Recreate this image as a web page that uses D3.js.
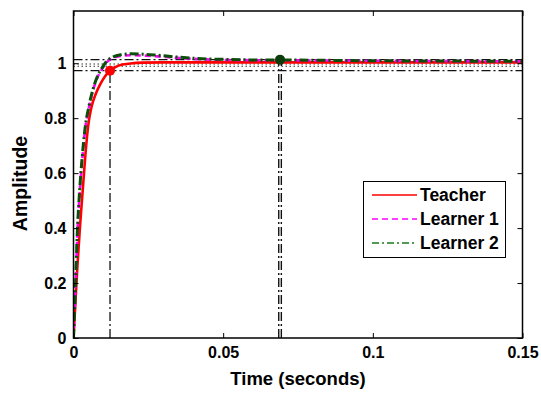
<!DOCTYPE html>
<html><head><meta charset="utf-8">
<script src="https://cdn.jsdelivr.net/npm/d3@7"></script>
<style>html,body{margin:0;padding:0;background:#fff;}svg{display:block;}</style>
</head><body>
<script>
// ---- data ----
const teacherT   = [0, 0.0005, 0.0013, 0.0022, 0.0031, 0.004, 0.005, 0.006, 0.0075, 0.009, 0.0105, 0.0122, 0.014, 0.016, 0.019, 0.023, 0.03, 0.04, 0.06, 0.08, 0.1, 0.12, 0.15];
const teacherAmp = [0, 0.10, 0.26, 0.41, 0.54, 0.67, 0.78, 0.84, 0.89, 0.925, 0.952, 0.973, 0.986, 0.994, 0.999, 1.002, 1.003, 1.003, 1.003, 1.003, 1.003, 1.003, 1.003];
const learner1T   = [0, 0.0005, 0.0013, 0.0022, 0.003, 0.004, 0.005, 0.0065, 0.008, 0.0095, 0.011, 0.0133, 0.016, 0.019, 0.023, 0.028, 0.034, 0.04, 0.05, 0.06, 0.069, 0.08, 0.1, 0.12, 0.15];
const learner1Amp = [0, 0.14, 0.38, 0.55, 0.66, 0.77, 0.83, 0.90, 0.948, 0.978, 1.002, 1.019, 1.027, 1.029, 1.028, 1.025, 1.02, 1.016, 1.012, 1.011, 1.011, 1.01, 1.009, 1.008, 1.007];
const learner2T   = [0, 0.0005, 0.0013, 0.0022, 0.003, 0.004, 0.005, 0.0065, 0.008, 0.0095, 0.011, 0.0133, 0.016, 0.019, 0.023, 0.028, 0.034, 0.04, 0.05, 0.06, 0.069, 0.08, 0.1, 0.12, 0.15];
const learner2Amp = [0, 0.14, 0.39, 0.56, 0.67, 0.775, 0.835, 0.905, 0.952, 0.982, 1.006, 1.023, 1.031, 1.034, 1.033, 1.029, 1.023, 1.018, 1.014, 1.012, 1.012, 1.011, 1.009, 1.008, 1.007];
const seriesNames = ["Teacher", "Learner 1", "Learner 2"];
const xTicks = [0, 0.05, 0.1, 0.15];
const xTickLabels = ["0", "0.05", "0.1", "0.15"];
const yTicks = [0, 0.2, 0.4, 0.6, 0.8, 1];
const yTickLabels = ["0", "0.2", "0.4", "0.6", "0.8", "1"];
const dashDotLevels = [1.013, 0.973];
const dottedLevels = [0.997, 0.989];
const teacherMarker = [0.0122, 0.973];
const learnerMarker = [0.069, 1.013];
const xDomain = [0, 0.15];
const yDomain = [0, 1.19];

// ---- drawing ----
const W = 541, H = 393;
const L = 73.5, R = 522.5, T = 11, B = 338;
const svg = d3.select("body").append("svg").attr("width", W).attr("height", H)
  .style("font-family", "'Liberation Sans', Arial, sans-serif");
const x = d3.scaleLinear().domain(xDomain).range([L, R]);
const y = d3.scaleLinear().domain(yDomain).range([B, T]);

svg.append("rect").attr("x", L).attr("y", T).attr("width", R - L).attr("height", B - T).attr("fill", "#fff");

const clip = svg.append("clipPath").attr("id", "clip").append("rect")
  .attr("x", L).attr("y", T).attr("width", R - L).attr("height", B - T);
const plot = svg.append("g").attr("clip-path", "url(#clip)");

const DASHDOT = "9,3,2,3";
// reference lines
dashDotLevels.forEach(v => {
  plot.append("line").attr("x1", x(xDomain[0])).attr("x2", x(xDomain[1]))
    .attr("y1", y(v)).attr("y2", y(v)).attr("stroke", "#111").attr("stroke-width", 1.3)
    .attr("stroke-dasharray", DASHDOT);
});
dottedLevels.forEach(v => {
  plot.append("line").attr("x1", x(xDomain[0])).attr("x2", x(xDomain[1]))
    .attr("y1", y(v)).attr("y2", y(v)).attr("stroke", "#333").attr("stroke-width", 1.1)
    .attr("stroke-dasharray", "1.5,2.5");
});
plot.append("line").attr("x1", x(teacherMarker[0])).attr("x2", x(teacherMarker[0]))
  .attr("y1", y(0)).attr("y2", y(teacherMarker[1])).attr("stroke", "#111").attr("stroke-width", 1.3)
  .attr("stroke-dasharray", DASHDOT);
[-1.3, 1.3].forEach(off => {
  plot.append("line").attr("x1", x(learnerMarker[0]) + off).attr("x2", x(learnerMarker[0]) + off)
    .attr("y1", y(0)).attr("y2", y(learnerMarker[1])).attr("stroke", "#111").attr("stroke-width", 1.4)
    .attr("stroke-dasharray", DASHDOT);
});

const line = d3.line().x(d => x(d[0])).y(d => y(d[1])).curve(d3.curveMonotoneX);
const series = [
  {pts: d3.zip(teacherT, teacherAmp), color: "#ff0000", dash: null, w: 2.6},
  {pts: d3.zip(learner1T, learner1Amp), color: "#ff00ff", dash: "6,4", w: 2.6},
  {pts: d3.zip(learner2T, learner2Amp), color: "#0b4f0b", dash: "9,3,2,3", w: 3}
];
series.forEach(s => {
  plot.append("path").attr("d", line(s.pts)).attr("fill", "none")
    .attr("stroke", s.color).attr("stroke-width", s.w)
    .attr("stroke-dasharray", s.dash);
});

plot.append("circle").attr("cx", x(teacherMarker[0])).attr("cy", y(teacherMarker[1])).attr("r", 5).attr("fill", "#ff0000");
plot.append("circle").attr("cx", x(learnerMarker[0])).attr("cy", y(learnerMarker[1])).attr("r", 5).attr("fill", "#0b3d0b");

// axes
const fmtX = d => xTickLabels[xTicks.indexOf(d)];
const fmtY = d => yTickLabels[yTicks.indexOf(d)];
const gx = svg.append("g").attr("transform", `translate(0,${B})`)
  .call(d3.axisBottom(x).tickValues(xTicks).tickFormat(fmtX).tickSizeInner(-5).tickSizeOuter(0).tickPadding(9));
const gxt = svg.append("g").attr("transform", `translate(0,${T})`)
  .call(d3.axisTop(x).tickValues(xTicks).tickFormat("").tickSizeInner(-5).tickSizeOuter(0));
const gy = svg.append("g").attr("transform", `translate(${L},0)`)
  .call(d3.axisLeft(y).tickValues(yTicks).tickFormat(fmtY).tickSizeInner(-5).tickSizeOuter(0).tickPadding(7));
const gyr = svg.append("g").attr("transform", `translate(${R},0)`)
  .call(d3.axisRight(y).tickValues(yTicks).tickFormat("").tickSizeInner(-5).tickSizeOuter(0));
[gx, gxt, gy, gyr].forEach(g => {
  g.select(".domain").remove();
  g.selectAll(".tick line").attr("stroke", "#000").attr("stroke-width", 1);
  g.selectAll("text").attr("fill", "#000").attr("font-size", 16).attr("font-weight", "bold")
    .attr("font-family", "'Liberation Sans', Arial, sans-serif");
});
svg.append("rect").attr("x", L).attr("y", T).attr("width", R - L).attr("height", B - T)
  .attr("fill", "none").attr("stroke", "#000").attr("stroke-width", 1.5);

// axis labels
svg.append("text").attr("x", (L + R) / 2).attr("y", 385).attr("text-anchor", "middle")
  .attr("font-size", 18.5).attr("font-weight", "bold").text("Time (seconds)");
svg.append("text").attr("transform", `translate(27,${(T + B) / 2 + 9}) rotate(-90)`).attr("text-anchor", "middle")
  .attr("font-size", 19.5).attr("font-weight", "bold").text("Amplitude");

// legend
const lg = svg.append("g");
lg.append("rect").attr("x", 363.5).attr("y", 181.5).attr("width", 142).attr("height", 76)
  .attr("fill", "#fff").attr("stroke", "#000").attr("stroke-width", 1);
const legendStyles = [
  {color: "#ff0000", dash: null},
  {color: "#ff00ff", dash: "6,4"},
  {color: "#1a7a1a", dash: "7,3,2,3"}
];
seriesNames.forEach((name, i) => {
  const yy = 195 + i * 24;
  lg.append("line").attr("x1", 372).attr("x2", 417).attr("y1", yy).attr("y2", yy)
    .attr("stroke", legendStyles[i].color).attr("stroke-width", 1.3).attr("stroke-dasharray", legendStyles[i].dash);
  lg.append("text").attr("x", 420).attr("y", yy + 6).attr("font-size", 17.5).attr("font-weight", "bold").text(name);
});
</script>
</body></html>
